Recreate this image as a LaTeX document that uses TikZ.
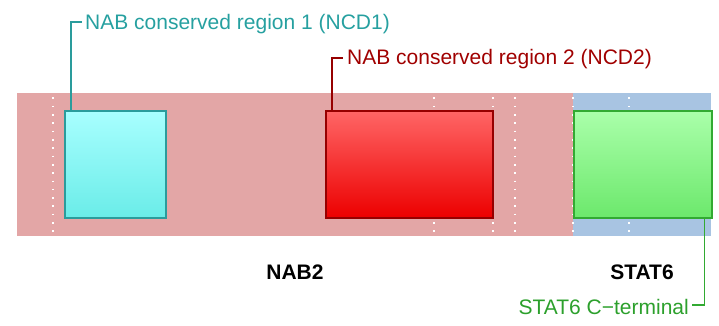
\documentclass[tikz,border=0pt]{standalone}
\usepackage{fontspec}
\setmainfont{Liberation Sans}
\definecolor{bandpink}{RGB}{227,166,166}
\definecolor{bandblue}{RGB}{168,196,226}
\definecolor{cyantop}{RGB}{168,255,255}
\definecolor{cyanbot}{RGB}{106,236,232}
\definecolor{cyanline}{RGB}{42,156,156}
\definecolor{redtop}{RGB}{255,102,102}
\definecolor{redbot}{RGB}{236,0,0}
\definecolor{redline}{RGB}{150,0,0}
\definecolor{greentop}{RGB}{170,255,170}
\definecolor{greenbot}{RGB}{108,232,108}
\definecolor{greenline}{RGB}{50,170,50}
\definecolor{labteal}{RGB}{38,160,160}
\definecolor{labred}{RGB}{160,0,0}
\definecolor{labgreen}{RGB}{44,160,44}
\begin{document}
\begin{tikzpicture}[x=1pt,y=-1pt,
  band/.style={inner sep=0pt, minimum height=143pt, anchor=north west},
  dom/.style={draw, line width=1.5pt, minimum height=107pt, inner sep=0pt, anchor=north west},
  dotline/.style={white, line width=1.6pt, dash pattern=on 1.6pt off 6.7pt},
  lab/.style={font=\fontsize{21}{25}\selectfont, inner sep=0pt, anchor=base west},
  protlab/.style={font=\fontsize{21}{25}\selectfont\bfseries, inner sep=0pt, anchor=base},
  leader/.style={line width=1.5pt}]
\useasboundingbox (0,0) rectangle (719,326);
% background bands
\node[band, fill=bandpink, minimum width=556pt] (nab) at (17,93) {};
\node[band, fill=bandblue, minimum width=138pt] (stat) at (573,93) {};
% dotted guide lines
\foreach \x in {53,434,493,515,573,629}
  \draw[dotline] (\x,97.5) -- (\x,236);
% domains
\node[dom, draw=cyanline, top color=cyantop, bottom color=cyanbot, minimum width=101pt] (ncd1) at (64,110) {};
\node[dom, draw=redline, top color=redtop, bottom color=redbot, minimum width=167pt] (ncd2) at (325,110) {};
\node[dom, draw=greenline, top color=greentop, bottom color=greenbot, minimum width=138pt] (ct) at (573,110) {};
% labels
\node[lab, text=labteal] (l1) at (85,30) {NAB conserved region 1 (NCD1)};
\node[lab, text=labred] (l2) at (347,65) {NAB conserved region 2 (NCD2)};
\node[lab, text=labgreen, anchor=base east] (l3) at (689,314) {STAT6 C\textminus terminal};
\coordinate (e1) at (82,22);
\coordinate (e2) at (343,58);
\coordinate (e3) at (692,305);
\draw[leader, cyanline] ([xshift=7pt]ncd1.north west) |- (e1);
\draw[leader, redline] ([xshift=7pt]ncd2.north west) |- (e2);
\draw[leader, greenline] ([xshift=-8pt]ct.south east) |- (e3);
% protein names
\node[protlab] (p1) at (295,279) {NAB2};
\node[protlab] (p2) at (642,279) {STAT6};
\end{tikzpicture}
\end{document}
